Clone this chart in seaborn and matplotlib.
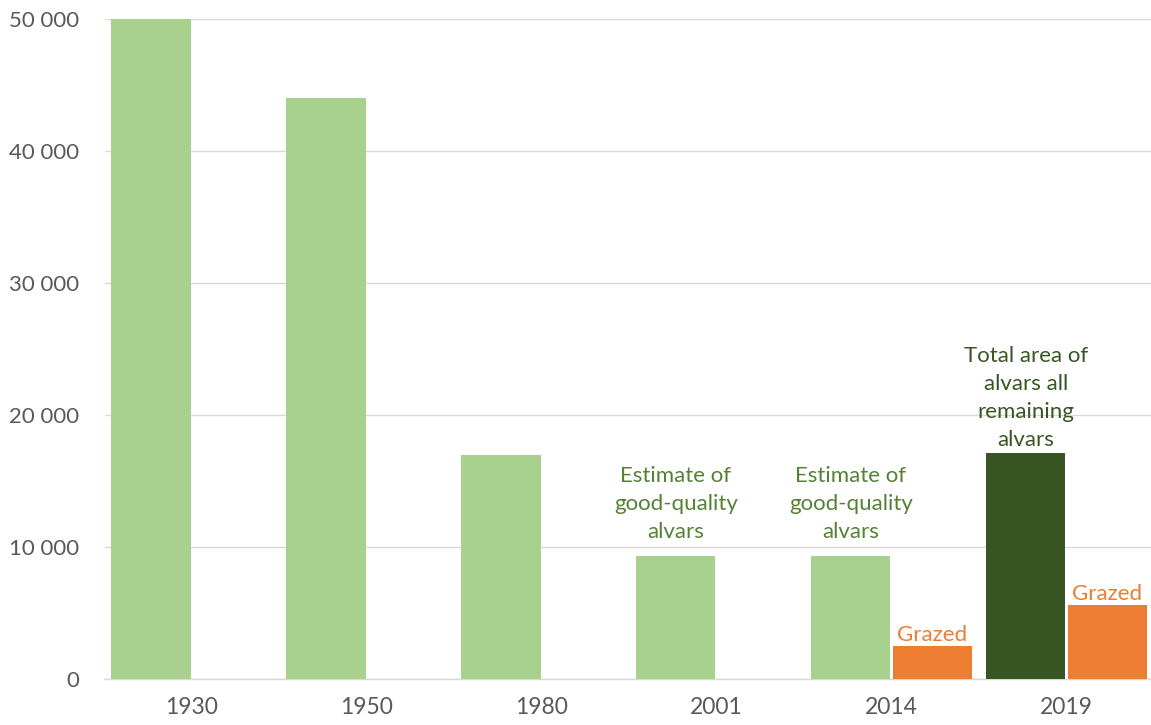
import matplotlib
matplotlib.use("Agg")
import matplotlib.pyplot as plt
import matplotlib.ticker as mticker
import numpy as np
import pandas as pd
import seaborn as sns

# Alvar area by year (hectares)
years = ["1930", "1950", "1980", "2001", "2014", "2019"]
total_area = [50000, 44000, 17000, 9300, 9300, 17100]
grazed_area = [np.nan, np.nan, np.nan, np.nan, 2500, 5600]
series_names = ["Area", "Grazed"]

estimate_label = "Estimate of\ngood-quality\nalvars"
total_label = "Total area of\nalvars all\nremaining\nalvars"
grazed_label = "Grazed"

LIGHT_GREEN = "#A9D18E"
DARK_GREEN = "#375623"
ORANGE = "#ED7D31"
TEXT_GREEN = "#548235"
AXIS_GREY = "#595959"
GRID_GREY = "#D9D9D9"

df = pd.DataFrame({
    "year": years * 2,
    "series": [series_names[0]] * len(years) + [series_names[1]] * len(years),
    "value": total_area + grazed_area,
})

sns.set_theme(style="white")
plt.rcParams["font.family"] = ["Lato", "DejaVu Sans"]

fig = plt.figure(figsize=(11.51, 7.25), dpi=100)
ax = fig.add_axes([104.5 / 1151, 1 - 679 / 725, 1049.5 / 1151, 660 / 725])

sns.barplot(
    data=df, x="year", y="value", hue="series",
    order=years, hue_order=series_names,
    palette=[LIGHT_GREEN, ORANGE], saturation=1, width=0.935, gap=0.03,
    edgecolor="none", linewidth=0, legend=False, ax=ax, zorder=3,
)

# Bars of each series, in year order (years without data have no bar)
area_bars = sorted(ax.containers[0], key=lambda b: b.get_x())
grazed_bars = sorted(ax.containers[1], key=lambda b: b.get_x())

# The latest total is highlighted in dark green
area_bars[years.index("2019")].set_facecolor(DARK_GREEN)

ax.set_xlim(-0.5, len(years) - 0.5)
ax.set_ylim(0, 50000)
ax.yaxis.set_major_locator(mticker.MultipleLocator(10000))
ax.yaxis.set_major_formatter(
    mticker.FuncFormatter(lambda v, _: f"{v:,.0f}".replace(",", " "))
)
ax.grid(axis="y", color=GRID_GREY, linewidth=1, zorder=0)
for side in ["top", "right", "left"]:
    ax.spines[side].set_visible(False)
ax.spines["bottom"].set_color(GRID_GREY)
ax.spines["bottom"].set_linewidth(1)
ax.tick_params(axis="both", length=0, colors=AXIS_GREY)
ax.tick_params(axis="y", labelsize=16, pad=18)
ax.tick_params(axis="x", labelsize=16.5, pad=13)
ax.set_xlabel("")
ax.set_ylabel("")


def label_bar(bar, text, color, offset):
    x = bar.get_x() + bar.get_width() / 2
    ax.annotate(text, (x, bar.get_height()), xytext=(0, offset),
                textcoords="offset points", ha="center", va="bottom",
                color=color, fontsize=16, linespacing=1.5, zorder=4)


for yr in ["2001", "2014"]:
    label_bar(area_bars[years.index(yr)], estimate_label, TEXT_GREEN, 10)
label_bar(area_bars[years.index("2019")], total_label, DARK_GREEN, 2.5)
for bar in grazed_bars:
    label_bar(bar, grazed_label, ORANGE, 1)

fig.savefig("out.png", dpi=100)
